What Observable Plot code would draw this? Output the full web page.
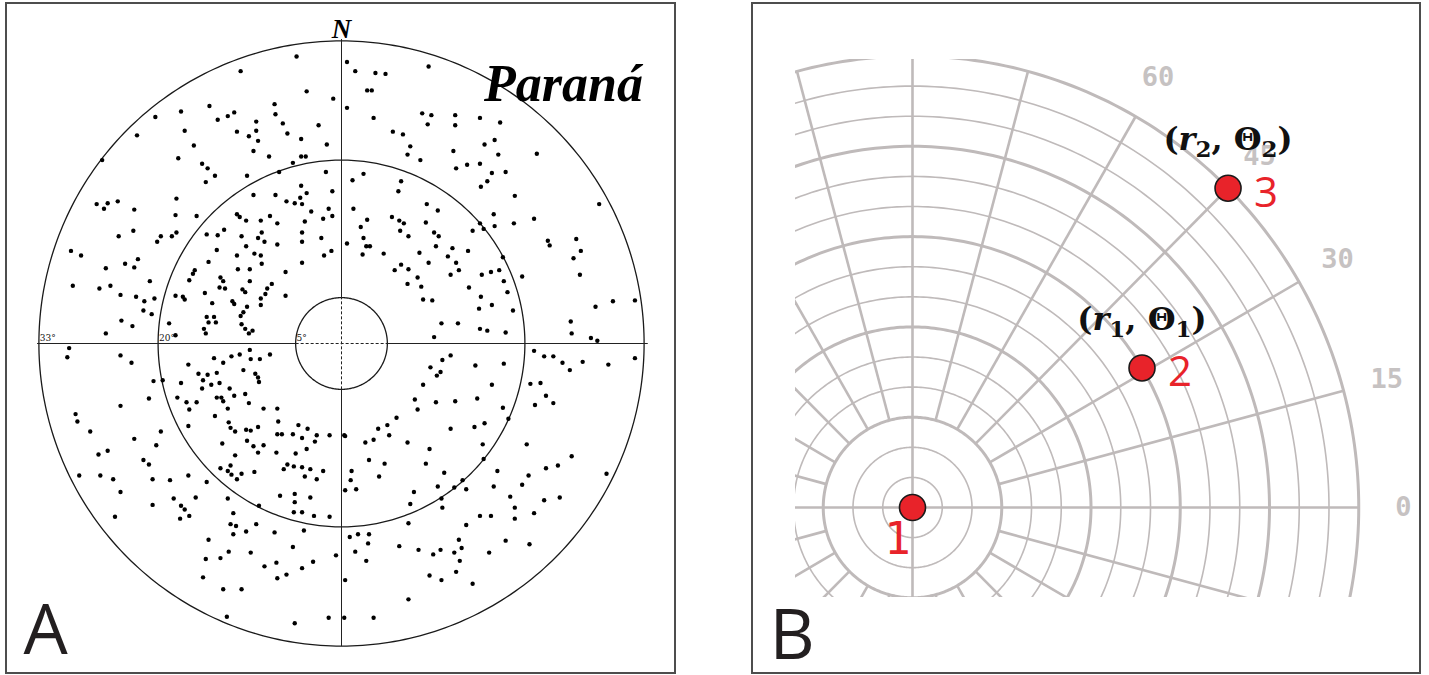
<!DOCTYPE html>
<html><head><meta charset="utf-8">
<script src="https://cdn.jsdelivr.net/npm/d3@7"></script>
<script src="https://cdn.jsdelivr.net/npm/@observablehq/plot@0.6"></script>
<style>
html,body{margin:0;padding:0;background:#fff;}
#root{position:relative;width:1429px;height:675px;overflow:hidden;background:#fff;}
.panel{position:absolute;top:0;}
.frame{position:absolute;box-sizing:border-box;border:2px solid #4d4d4d;pointer-events:none;}
</style></head><body>
<div id="root">
  <div id="pa" class="panel" style="left:0;width:690px;height:675px"></div>
  <div id="pb" class="panel" style="left:690px;width:739px;height:675px"></div>
  <div class="frame" style="left:5px;top:2px;width:671px;height:672px"></div>
  <div class="frame" style="left:751px;top:2px;width:670px;height:672px"></div>
</div>
<script>
// ---------------- Panel A data (star positions, degrees from centre; x east, y north) ----------------
const starsNW = [[-4.9,31.3],[-11.0,29.7],[-3.8,27.5],[-0.9,26.7],[-7.3,26.1],[-7.2,25.0],[-14.4,25.9],[-17.5,25.3],[-20.3,24.7],[-13.5,24.4],[-12.4,24.8],[-11.7,25.2],[-9.3,24.2],[-9.3,23.2],[-6.4,24.0],[-5.9,22.9],[-2.5,23.8],[-17.1,23.2],[-22.3,22.7],[-11.4,23.1],[-10.1,22.6],[-9.1,22.1],[-4.4,22.3],[-1.6,21.7],[-16.1,21.6],[-9.6,21.0],[-7.9,20.4],[-4.4,20.4],[-3.9,20.4],[-5.3,19.7],[-17.8,20.2],[-15.2,19.6],[-14.6,19.1],[-13.8,18.3],[-14.8,17.6],[-10.3,18.3],[-26.1,20.0],
[-1.7,18.7],[-6.8,18.7],[-1.0,16.6],[-9.6,16.2],[-7.2,16.2],[-6.0,15.5],[-4.5,15.9],[-3.8,16.4],[-4.4,17.2],[-5.1,15.3],[-4.3,15.2],[-3.3,14.4],[-1.4,14.7],[-1.0,13.9],[-2.0,13.6],[-11.4,14.1],[-11.1,13.8],[-10.4,13.4],[-8.8,13.4],[-7.8,13.9],[-7.0,13.1],[-4.0,13.3],[-8.7,12.1],[-8.4,11.1],[-9.1,11.5],[-10.9,11.7],[-4.3,12.1],[-2.2,11.5],[-1.1,10.1],[-1.9,9.6],[-4.3,11.1],[-13.5,11.8],[-14.7,11.9],[-12.8,12.4],[-13.6,10.2],[-11.4,9.6],[-10.4,10.6],[-9.5,9.8],[-8.8,9.6],[-7.0,10.8],[-8.7,8.7],[-10.0,8.1],[-11.3,8.1],[-14.5,8.9],[-16.0,8.0],[-16.2,7.6],[-4.3,8.8],[-6.1,7.8],[-7.6,6.5],[-8.1,6.0],[-8.3,5.4],[-8.8,4.9],[-8.8,4.2],[-10.0,6.8],[-10.8,5.9],[-10.5,5.6],[-13.2,7.2],[-12.9,6.8],[-13.3,6.1],[-12.7,6.0],[-14.9,5.5],[-16.6,6.9],[-18.1,5.2],[-17.3,5.1],[-17.1,4.8],[-14.1,4.4],[-11.9,4.6],[-11.7,4.3],[-10.3,4.0],[-10.7,3.4],[-6.1,5.2],[-14.7,2.9],[-13.9,2.9],[-13.7,2.3],[-14.5,2.3],[-11.0,3.0],[-10.9,2.1],[-10.5,1.6],[-9.7,1.4],[-10.1,1.1],[-15.0,1.6],[-14.8,1.1],[-18.8,2.2],[-18.1,0.9],
[-26.7,15.2],[-25.5,15.3],[-24.4,15.5],[-25.9,14.7],[-22.6,14.6],[-18.1,14.0],[-18.0,15.8],[-15.8,13.9],[-24.3,11.7],[-22.7,12.3],[-20.1,11.1],[-19.7,11.7],[-18.5,11.7],[-18.0,12.1],[-29.5,10.1],[-28.4,9.6],[-25.7,8.2],[-23.6,8.7],[-22.6,8.3],[-22.2,9.2],[-20.9,6.8],[-29.3,6.3],[-26.4,6.0],[-25.2,6.3],[-24.1,5.3],[-22.4,5.1],[-21.5,4.6],[-20.4,4.9],[-21.6,3.6],[-20.7,3.2],[-24.0,2.5],[-22.8,1.9],[-25.7,1.1]];
const starsNE = [[0.6,30.7],[1.5,29.7],[3.7,29.5],[4.8,29.4],[9.5,30.2],[2.8,27.6],[3.3,27.6],[0.6,25.7],[3.5,24.6],[8.8,25.1],[9.8,24.9],[9.4,23.9],[12.4,24.9],[12.4,23.8],[15.1,24.6],[17.3,24.1],[5.6,23.1],[6.7,22.8],[7.5,21.5],[7.2,20.6],[8.6,20.0],[15.6,21.7],[16.7,22.2],[12.2,21.0],[17.1,20.6],[21.3,20.7],[12.5,19.1],[13.7,19.5],[15.1,19.6],[16.4,18.6],[17.9,18.7],[15.9,17.7],[15.2,17.1],[18.9,16.1],[18.8,13.1],[21.0,13.6],[16.6,14.1],[16.7,12.8],[28.1,15.2],[22.5,11.2],[22.7,10.7],[25.6,11.4],[26.1,10.1],[25.3,9.3],[26.0,7.5],[19.7,7.3],[29.6,4.6],[32.0,4.7],[27.7,4.0],[25.0,2.4],[25.1,1.1],[27.2,0.6],[27.9,0.3],[17.6,9.4],
[2.4,18.5],[1.2,17.8],[6.5,17.7],[6.2,16.6],[1.3,14.7],[9.3,15.2],[10.5,14.5],[2.8,13.5],[5.5,13.8],[6.3,13.4],[6.8,13.1],[9.2,13.2],[2.1,12.7],[6.4,12.3],[7.3,11.7],[10.1,12.1],[10.6,11.7],[2.4,11.5],[0.6,10.9],[2.7,10.6],[3.1,10.6],[2.3,9.7],[4.6,9.8],[10.3,10.6],[8.5,9.9],[12.1,10.4],[11.6,9.5],[13.8,10.1],[14.3,12.3],[15.1,13.1],[15.5,12.5],[12.5,8.8],[12.8,8.0],[9.5,8.8],[6.5,8.6],[5.8,8.0],[7.3,8.1],[8.3,7.2],[8.7,6.2],[7.2,6.5],[11.9,7.5],[15.3,7.5],[16.3,7.8],[17.2,8.0],[17.7,6.8],[13.9,6.1],[15.2,5.1],[18.1,5.6],[16.4,4.2],[15.0,3.8],[8.9,4.8],[9.9,4.7],[10.9,2.2],[12.7,2.2],[15.1,1.6],[15.9,1.4],[17.9,1.2],[10.1,0.7],[18.7,3.6]];
const starsSW = [[-29.9,-1.5],[-29.7,-0.5],[-24.1,-1.3],[-22.9,-2.1],[-20.5,-4.1],[-21.0,-6.0],[-24.1,-6.8],[-29.0,-7.7],[-28.8,-8.5],[-27.4,-9.6],[-22.6,-10.4],[-20.2,-11.1],[-19.7,-9.6],[-26.5,-12.1],[-25.5,-11.7],[-21.6,-12.7],[-21.0,-13.2],[-28.6,-14.4],[-26.3,-14.4],[-24.9,-14.8],[-24.1,-16.2],[-20.6,-14.8],[-18.7,-14.9],[-20.6,-17.6],[-18.3,-16.9],[-17.5,-17.7],[-17.1,-18.1],[-16.6,-18.8],[-17.6,-19.1],[-15.9,-16.8],[-16.7,-14.4],[-24.7,-18.9],[-19.5,-4.0],[-14.7,-15.1],
[-17.5,-4.3],[-16.7,-2.3],[-15.6,-3.3],[-14.6,-3.4],[-13.6,-3.2],[-15.1,-4.0],[-14.2,-4.5],[-13.3,-4.3],[-13.9,-1.6],[-12.9,-2.1],[-12.0,-1.4],[-11.1,-1.2],[-10.0,-0.7],[-9.9,-1.7],[-8.9,-1.7],[-7.8,-1.2],[-9.4,-3.3],[-9.1,-3.7],[-9.0,-4.2],[-10.7,-2.9],[-15.2,-4.9],[-12.2,-4.9],[-13.6,-5.9],[-13.1,-5.9],[-12.9,-6.3],[-11.7,-5.7],[-10.5,-5.5],[-17.9,-5.9],[-16.9,-6.4],[-15.8,-6.4],[-16.6,-7.2],[-12.4,-7.1],[-10.1,-6.5],[-8.5,-7.1],[-7.0,-7.1],[-13.8,-7.9],[-16.7,-9.0],[-6.9,-8.5],[-12.3,-8.6],[-12.1,-9.2],[-11.6,-9.6],[-10.4,-9.4],[-9.9,-9.5],[-9.1,-9.1],[-7.0,-9.9],[-6.5,-9.9],[-5.3,-9.9],[-4.7,-8.9],[-3.7,-9.3],[-2.7,-10.0],[-2.9,-10.7],[-4.3,-10.3],[-1.3,-10.0],[0.3,-10.0],[-13.0,-10.9],[-10.3,-10.6],[-9.6,-11.2],[-8.5,-11.1],[-9.1,-11.9],[-7.1,-11.9],[-5.0,-12.0],[-3.8,-11.5],[-11.6,-12.2],[-5.9,-13.2],[-6.3,-13.7],[-5.2,-13.4],[-4.3,-13.5],[-3.4,-13.7],[-2.0,-13.9],[-2.7,-14.8],[-4.0,-14.5],[-12.1,-13.3],[-12.4,-13.9],[-12.0,-14.3],[-11.4,-14.8],[-10.9,-14.2],[-9.5,-14.0],[-13.2,-13.6],[-5.1,-16.4],[-5.1,-17.3],[-6.7,-16.6],[-3.4,-16.8],[-5.2,-18.4],[-4.3,-18.4],[-3.0,-18.8],[-1.3,-18.9],
[-12.4,-16.9],[-11.8,-18.5],[-9.0,-17.7],[-12.1,-19.7],[-11.5,-19.9],[-10.4,-20.5],[-9.3,-19.7],[-7.3,-20.6],[-4.1,-20.4],[-11.8,-20.8],[-14.5,-21.4],[-12.3,-22.7],[-9.9,-22.8],[-5.3,-22.2],[-14.8,-23.5],[-13.2,-23.4],[-7.1,-23.9],[-8.4,-24.3],[-4.3,-24.5],[-3.1,-23.8],[-6.0,-25.2],[-7.0,-25.6],[-15.1,-25.5],[-12.9,-26.8],[-10.9,-26.8],[-0.6,-23.1],[-12.5,-29.8],[-5.1,-30.5],[-1.4,-29.9]];
const starsSE = [[11.9,-1.3],[11.0,-1.8],[9.7,-2.6],[10.8,-3.1],[10.4,-3.5],[14.6,-2.4],[17.7,-2.2],[8.9,-4.5],[16.4,-4.5],[8.0,-6.1],[8.3,-7.2],[10.3,-6.4],[12.4,-6.3],[14.8,-6.0],[6.0,-8.1],[5.0,-8.9],[4.0,-9.3],[5.2,-10.0],[0.4,-10.1],[2.6,-10.8],[3.5,-10.5],[11.9,-9.3],[14.5,-9.1],[15.6,-8.7],[7.2,-10.8],[9.6,-11.5],[15.4,-11.0],[3.0,-12.7],[4.7,-13.1],[9.2,-13.1],[1.1,-13.9],[4.1,-14.5],[1.0,-14.9],[0.4,-16.0],[1.6,-15.9],[11.2,-14.1],[10.5,-15.6],[7.9,-16.2],[7.5,-17.5],[13.6,-15.9],[12.3,-15.7],[13.2,-14.9],[10.9,-16.9],[11.0,-17.9],[17.6,-7.0],[18.2,-8.2],[15.5,-12.6],
[21.0,-0.8],[22.1,-1.4],[23.1,-1.4],[24.1,-2.1],[24.9,-2.9],[26.3,-2.0],[29.1,-2.3],[32.0,-1.6],[20.6,-4.4],[21.7,-4.3],[22.3,-5.7],[23.1,-6.5],[21.1,-6.7],[20.2,-11.0],[25.1,-12.3],[22.3,-13.6],[23.6,-13.3],[28.9,-14.2],[17.0,-13.9],[20.4,-14.4],[19.7,-15.4],[16.6,-15.6],[18.4,-16.7],[18.9,-17.9],[18.9,-19.1],[21.0,-18.5],[22.1,-17.1],[23.8,-16.8],[15.1,-18.8],[16.3,-18.8],[13.6,-19.8],[12.8,-21.4],[13.1,-22.3],[12.3,-22.8],[12.9,-23.7],[12.5,-24.9],[10.8,-22.5],[10.0,-23.0],[8.4,-22.5],[6.3,-22.1],[17.9,-21.5],[20.5,-21.9],[16.1,-22.8],[14.3,-26.2],[9.6,-25.3],[10.9,-25.8],[7.3,-27.9],[3.5,-29.9],[0.3,-29.9],[2.7,-23.7],[1.5,-22.7],[0.9,-21.1],[1.8,-20.8],[3.0,-20.8],[2.9,-21.8],[0.4,-25.8],[7.3,-19.6]];
const ringDegrees = [5, 20, 33];
const ringDegreeLabels = ["5°", "20°", "33°"];
const chartTitle = "Paraná";
const northLabel = "N";

// ---------------- Panel B data ----------------
const ringUnits = [1, 2, 3, 4, 5, 6, 7, 8, 9, 10, 11, 12, 13, 14, 15];
const majorRingUnits = [3, 6, 9, 12, 15];
const spokeAngles = [0, 15, 30, 45, 60, 75, 90, 105, 120, 135, 150, 165, 180, 195, 210, 225, 240, 255, 270, 285, 300, 315, 330, 345];
const axisAngles = [0, 90, 180, 270];
const tickAngles = [0, 15, 30, 45, 60];
const tickLabels = ["0", "15", "30", "45", "60"];
const pointNames = ["1", "2", "3"];
const pointR = [0, 9, 15];
const pointTheta = [0, 31, 45];
const coordLabels = ["(r₁, Θ₁)", "(r₂, Θ₂)"];

// ---------------- helpers ----------------
const rad = (a) => a * Math.PI / 180;
const circlePoints = (r) => d3.range(0, 361, 1).map(a => ({r, x: r * Math.cos(rad(a)), y: r * Math.sin(rad(a))}));

// ================= Panel A =================
const degPx = 9.17, cxA = 341, cyA = 343;
const stars = [...starsNW, ...starsNE, ...starsSW, ...starsSE].map(([x, y]) => ({x, y}));
const ringsA = ringDegrees.flatMap(circlePoints);
const outerR = ringDegrees[2], innerR = ringDegrees[0];
const solidSegs = [
  {x1: -outerR - 0.2, y1: 0, x2: -innerR, y2: 0}, {x1: innerR, y1: 0, x2: outerR + 0.4, y2: 0},
  {x1: 0, y1: -outerR, x2: 0, y2: -innerR}, {x1: 0, y1: innerR, x2: 0, y2: outerR + 0.2}
];
const dashSegs = [{x1: -innerR, y1: 0, x2: innerR, y2: 0}, {x1: 0, y1: -innerR, x2: 0, y2: innerR}];
const ringLabelData = ringDegrees.map((d, i) => ({x: -d + 0.1, y: 0.55, text: ringDegreeLabels[i]}));

const plotA = Plot.plot({
  width: 690, height: 675,
  marginTop: 0, marginRight: 0, marginBottom: 0, marginLeft: 0,
  x: {domain: [-1, 1], range: [cxA - degPx, cxA + degPx], axis: null},
  y: {domain: [-1, 1], range: [cyA + degPx, cyA - degPx], axis: null},
  marks: [
    Plot.line(ringsA, {x: "x", y: "y", z: "r", stroke: "#1a1a1a", strokeWidth: 1.3}),
    Plot.link(solidSegs, {x1: "x1", y1: "y1", x2: "x2", y2: "y2", stroke: "#222", strokeWidth: 1}),
    Plot.link(dashSegs, {x1: "x1", y1: "y1", x2: "x2", y2: "y2", stroke: "#222", strokeWidth: 1, strokeDasharray: "3,2"}),
    Plot.dot(stars, {x: "x", y: "y", r: 2.2, fill: "#000", stroke: "none"}),
    Plot.text(ringLabelData, {x: "x", y: "y", text: "text", textAnchor: "start", fontSize: 9, fontFamily: "DejaVu Serif", fill: "#111"}),
    Plot.text([northLabel], {x: 0, y: 34.3, text: d => d, fontSize: 27, fontStyle: "italic", fontWeight: "bold", fontFamily: "Liberation Serif", fill: "#000"}),
    Plot.text([chartTitle], {x: 24.2, y: 28.3, text: d => d, fontSize: 52, fontStyle: "italic", fontWeight: "bold", fontFamily: "Liberation Serif", fill: "#000"}),
    Plot.text(["A"], {frameAnchor: "bottom-left", text: d => d, textAnchor: "start", lineAnchor: "bottom", dx: 23, dy: -22, fontSize: 70, fontFamily: "Open Sans", fill: "#231f20"})
  ]
});
document.getElementById("pa").append(plotA);

// ================= Panel B =================
const uX = 29.75, uY = 30.1, cxB = 222, cyB = 507;
const gridColor = "#bfbaba";
const thinRings = ringUnits.filter(r => !majorRingUnits.includes(r)).flatMap(circlePoints);
const thickRings = majorRingUnits.flatMap(circlePoints);
const rMax = ringUnits[ringUnits.length - 1];
const spokes = spokeAngles.map(a => {
  const r0 = axisAngles.includes(a) ? 0 : majorRingUnits[0];
  return {x1: r0 * Math.cos(rad(a)), y1: r0 * Math.sin(rad(a)), x2: rMax * Math.cos(rad(a)), y2: rMax * Math.sin(rad(a))};
});
const tickR = rMax + 1.5;
const ticks = tickAngles.map((a, i) => ({x: tickR * Math.cos(rad(a)), y: tickR * Math.sin(rad(a)), text: tickLabels[i]}));
const points = pointNames.map((n, i) => ({name: n, x: pointR[i] * Math.cos(rad(pointTheta[i])), y: pointR[i] * Math.sin(rad(pointTheta[i]))}));
const coordData = coordLabels.map((t, i) => ({...points[i + 1], text: t}));
const red = "#e8232a";

const plotB = Plot.plot({
  width: 739, height: 675,
  marginTop: 59, marginRight: 10, marginBottom: 78, marginLeft: 105,
  x: {domain: [0, 1], range: [cxB, cxB + uX], axis: null},
  y: {domain: [0, 1], range: [cyB, cyB - uY], axis: null},
  marks: [
    Plot.line(thinRings, {x: "x", y: "y", z: "r", stroke: gridColor, strokeWidth: 1.6, clip: true}),
    Plot.line(thickRings, {x: "x", y: "y", z: "r", stroke: gridColor, strokeWidth: 3, clip: true}),
    Plot.link(spokes, {x1: "x1", y1: "y1", x2: "x2", y2: "y2", stroke: gridColor, strokeWidth: 2.6, clip: true}),
    Plot.text(ticks, {x: "x", y: "y", text: "text", fill: "#c6c2c2", fontFamily: "DejaVu Sans Mono", fontWeight: "bold", fontSize: 27}),
    Plot.dot(points, {x: "x", y: "y", r: 13, fill: red, stroke: "#1a1a1a", strokeWidth: 1.6}),
    Plot.text(points.slice(0, 1), {x: "x", y: "y", text: "name", dx: -15, dy: 32, fill: red, fontFamily: "DejaVu Sans Mono", fontSize: 44}),
    Plot.text(points.slice(1), {x: "x", y: "y", text: "name", dx: 38, dy: 5, fill: red, fontFamily: "Open Sans", fontSize: 42}),
    Plot.text(coordData, {x: "x", y: "y", text: "text", dx: 0, dy: -48, fill: "#111", fontFamily: "DejaVu Serif", fontWeight: "bold", fontSize: 32}),
    Plot.text(["B"], {frameAnchor: "bottom-left", text: d => d, textAnchor: "start", lineAnchor: "bottom", dx: -26, dy: 61, fontSize: 70, fontFamily: "Open Sans", fill: "#231f20"})
  ]
});
document.getElementById("pb").append(plotB);

// typeset the coordinate labels with italic r and real subscripts
const subDigit = {"₁": "1", "₂": "2"};
d3.select(plotB).selectAll("text").each(function () {
  const s = this.textContent;
  if (!s.startsWith("(r")) return;
  const idx = subDigit[s.charAt(2)];
  const t = d3.select(this);
  t.text(null);
  t.append("tspan").text("(");
  t.append("tspan").attr("font-style", "italic").text("r");
  t.append("tspan").attr("font-size", 23).attr("dy", 7).text(idx);
  t.append("tspan").attr("dy", -7).text(", Θ");
  t.append("tspan").attr("font-size", 23).attr("dy", 7).text(idx);
  t.append("tspan").attr("dy", -7).text(")");
});
</script>
</body></html>
